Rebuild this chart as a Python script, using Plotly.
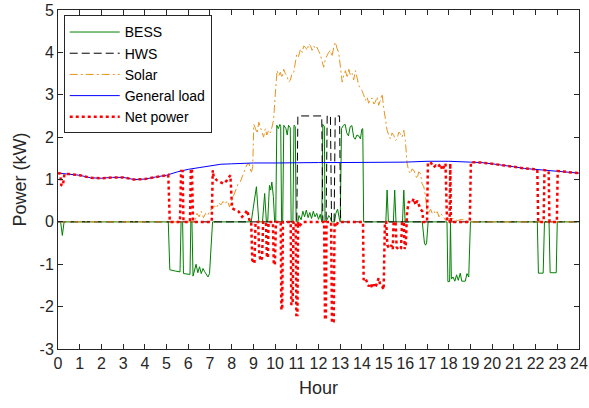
import plotly.graph_objects as go

# ---------------- data (hours, kW) ----------------
load_t = [0, 0.5, 1, 1.5, 2, 2.5, 3, 3.5, 4, 4.5, 5, 5.5, 6, 6.5, 7, 7.5, 8, 8.5, 9, 10, 11, 12, 13, 14,
          15, 16, 17, 18, 19, 19.5, 20, 20.5, 21, 21.5, 22, 22.5, 23, 23.5, 24]
load_v = [1.15, 1.13, 1.10, 1.04, 1.03, 1.05, 1.05, 1.00, 1.01, 1.06, 1.10, 1.18, 1.24, 1.28, 1.32, 1.36,
          1.37, 1.38, 1.39, 1.39, 1.40, 1.40, 1.40, 1.40, 1.40, 1.41, 1.43, 1.43, 1.41, 1.40, 1.37, 1.34,
          1.30, 1.26, 1.24, 1.22, 1.20, 1.17, 1.15]

hws_t = [0, 11.0, 11.05, 12.15, 12.2, 12.35, 12.4, 12.55, 12.6, 12.72, 12.77, 12.97, 13.02, 24]
hws_v = [0, 0, 2.5, 2.5, 0, 0, 2.5, 2.5, 0, 0, 2.5, 2.5, 0, 0]

solar_t = [0, 6.3, 6.4, 6.5, 6.6, 6.7, 6.8, 6.9, 7.0, 7.1, 7.2, 7.3, 7.4, 7.5, 7.6, 7.7, 7.8, 7.9, 8.0,
           8.1, 8.2, 8.3, 8.4, 8.5, 8.6, 8.7, 8.8, 8.9, 8.97, 9.02, 9.1, 9.17, 9.25, 9.32, 9.4, 9.47,
           9.55, 9.62, 9.7, 9.78, 9.86, 9.93, 10.0, 10.09, 10.17, 10.24, 10.32, 10.4, 10.47, 10.55,
           10.62, 10.7, 10.78, 10.86, 10.93, 11.0, 11.08, 11.17, 11.25, 11.32, 11.4, 11.48, 11.55,
           11.63, 11.7, 11.78, 11.86, 11.93, 12.0, 12.08, 12.16, 12.24, 12.32, 12.4, 12.47, 12.55,
           12.62, 12.7, 12.78, 12.85, 12.93, 13.0, 13.09, 13.16, 13.24, 13.32, 13.4, 13.47, 13.55,
           13.62, 13.7, 13.78, 13.85, 13.93, 14.0, 14.08, 14.16, 14.24, 14.31, 14.39, 14.47, 14.55,
           14.62, 14.7, 14.77, 14.85, 14.93, 15.0, 15.08, 15.16, 15.24, 15.31, 15.39, 15.47, 15.55,
           15.62, 15.7, 15.77, 15.85, 15.93, 16.0, 16.08, 16.16, 16.24, 16.31, 16.39, 16.47, 16.54,
           16.62, 16.7, 16.77, 16.85, 16.93, 17.0, 17.08, 17.16, 17.24, 17.32, 17.4, 17.47, 17.55,
           17.62, 17.7, 17.78, 17.85, 17.95, 18.05, 18.2, 18.4, 18.6, 18.8, 19.0, 24]
solar_v = [0, 0, 0.2, 0.12, 0.25, 0.1, 0.2, 0.15, 0.28, 0.3, 0.38, 0.32, 0.45, 0.4, 0.48, 0.42, 0.5,
           0.35, 0.5, 0.65, 0.8, 0.9, 0.95, 1.1, 1.2, 1.35, 1.38, 1.15, 1.3, 2.3, 2.2, 2.09, 2.35, 2.24,
           2.1, 2.0, 2.2, 2.05, 2.16, 2.1, 2.24, 2.4, 2.94, 3.57, 3.45, 3.53, 3.4, 3.6, 3.5, 3.45, 3.3,
           3.34, 3.5, 3.53, 3.75, 3.96, 3.9, 4.08, 4.0, 4.15, 4.12, 4.05, 4.2, 4.16, 4.05, 4.15, 4.08,
           4.12, 4.04, 3.95, 3.8, 3.65, 3.85, 3.95, 4.0, 4.05, 3.9, 4.12, 4.24, 4.1, 4.0, 3.7, 3.3,
           3.45, 3.57, 3.4, 3.6, 3.45, 3.5, 3.35, 3.57, 3.4, 3.22, 3.15, 3.1, 3.0, 2.87, 2.95, 2.8,
           2.9, 2.92, 2.78, 2.83, 2.95, 2.75, 2.87, 3.02, 2.7, 2.4, 2.16, 2.05, 1.96, 2.1, 2.04, 1.92,
           1.96, 2.12, 2.08, 2.0, 2.16, 1.92, 1.38, 1.2, 1.14, 1.25, 1.22, 1.1, 1.02, 1.18, 1.14, 0.9,
           0.83, 0.6, 0.28, 0.22, 0.3, 0.2, 0.25, 0.18, 0.24, 0.12, 0.2, 0.16, 0.1, 0.04, 0.1, 0.05,
           0.08, 0.03, 0.06, 0.02, 0, 0]

bess_t = [0, 0.12, 0.2, 0.28, 5.08, 5.15, 5.4, 5.62, 5.67, 5.74, 5.78, 6.08, 6.12, 6.17, 6.22, 6.3,
          6.36, 6.44, 6.52, 6.6, 6.68, 6.75, 6.83, 6.91, 6.98, 7.12, 8.9, 9.14, 9.25, 9.42, 9.52, 9.6,
          9.66, 9.74, 9.8, 9.85, 9.92, 9.98, 10.03, 10.08, 10.15, 10.22, 10.26, 10.3, 10.35, 10.4,
          10.5, 10.56, 10.62, 10.7, 10.74, 10.82, 10.87, 10.93, 10.97, 11.05, 11.1, 11.2, 11.28,
          11.36, 11.44, 11.52, 11.6, 11.68, 11.76, 11.84, 11.92, 12.0, 12.08, 12.15, 12.2, 12.27,
          12.3, 12.4, 12.47, 12.54, 12.6, 12.74, 12.8, 12.88, 12.95, 13.0, 13.06, 13.15, 13.23, 13.3,
          13.38, 13.46, 13.54, 13.62, 13.69, 13.77, 13.85, 13.93, 14.0, 14.04, 14.08, 15.1, 15.16,
          15.22, 15.45, 15.51, 15.57, 15.87, 15.93, 15.99, 16.78, 16.88, 16.93, 16.98, 17.05, 17.92,
          17.96, 18.04, 18.08, 18.12, 18.2, 18.28, 18.36, 18.44, 18.53, 18.6, 18.76, 18.84, 18.92,
          19.0, 22.08, 22.13, 22.35, 22.41, 22.62, 22.67, 22.95, 23.0, 24]
bess_v = [0, 0, -0.32, 0, 0, -1.13, -1.16, -1.18, 0, 0, -1.22, -1.24, 0, 0, -1.28, -1.15, -1.0, -1.2,
          -1.06, -1.22, -1.1, -1.17, -1.24, -1.3, -1.22, 0, 0, 0.83, 0, 0, 0.67, 0, 0, 0.86, 0.75, 0.94,
          0.6, 0, 0, 2.28, 2.2, 2.3, 2.25, 0, 0, 2.28, 2.2, 2.05, 2.28, 2.22, 0, 0, 2.28, 2.25, 0, 0,
          0.15, 0.05, 0.25, 0.12, 0.28, 0.1, 0.22, 0.08, 0.25, 0.12, 0.2, 0.06, 0.18, 0.0, 2.3, 2.25,
          0, 0.05, 0.15, 0.1, 0, 0, 0.2, 0.3, 0.1, 0, 2.2, 2.28, 2.3, 2.1, 2.03, 2.25, 2.27, 2.0, 1.95,
          2.05, 2.03, 1.96, 2.19, 2.2, 0, 0, 0.75, 0, 0, 0.75, 0, 0, 0.75, 0, 0, -0.5, -0.55, -0.5, 0,
          0, -1.41, -1.41, 0, -1.35, -1.3, -1.4, -1.25, -1.38, -1.21, -1.4, -1.4, -1.22, -1.3, 0, 0,
          -1.21, -1.21, 0, 0, -1.2, -1.2, 0, 0]

net_t = [0, 0.1, 0.15, 0.22, 0.3, 0.5, 1, 1.5, 2, 2.5, 3, 3.5, 4, 4.5, 5.0, 5.08, 5.15, 5.62, 5.67,
         5.74, 5.78, 6.08, 6.12, 6.17, 6.22, 7.08, 7.13, 7.17, 7.32, 7.48, 7.63, 7.78, 7.94, 8.02,
         8.17, 8.33, 8.48, 8.63, 8.71, 8.8, 8.84, 8.9, 8.95, 9.05, 9.1, 9.22, 9.27, 9.33, 9.4, 9.45,
         9.58, 9.62, 9.67, 9.7, 9.9, 9.94, 9.99, 10.04, 10.26, 10.29, 10.33, 10.36, 10.72, 10.75,
         10.81, 10.85, 10.95, 10.98, 11.03, 11.06, 11.1, 11.2, 11.3, 12.26, 12.3, 12.34, 12.37,
         12.58, 12.62, 12.7, 12.74, 12.8, 12.9, 14.05, 14.08, 14.16, 14.31, 14.4, 14.47, 14.55,
         14.62, 14.77, 14.85, 14.93, 15.0, 15.06, 15.12, 15.17, 15.25, 15.35, 15.42, 15.46, 15.55,
         15.6, 15.7, 15.8, 15.85, 15.93, 15.97, 16.02, 16.08, 16.16, 16.3, 16.39, 16.47, 16.55,
         16.7, 16.78, 16.83, 17.0, 17.04, 17.16, 17.3, 17.4, 17.5, 17.62, 17.7, 17.85, 17.92, 18.04,
         18.07, 18.1, 18.97, 19.02, 19.5, 20, 20.5, 21, 21.5, 22.08, 22.12, 22.37, 22.41, 22.6,
         22.64, 22.98, 23.02, 23.5, 24]
net_v = [1.15, 1.14, 0.87, 0.85, 1.13, 1.13, 1.10, 1.04, 1.03, 1.05, 1.05, 1.0, 1.01, 1.06, 1.10,
         1.11, 0, 0, 1.2, 1.2, 0, 0, 1.25, 1.25, 0, 0, 1.22, 1.06, 0.98, 0.94, 0.9, 0.98, 1.1, 0.32,
         0.28, 0.24, 0.12, 0.2, 0.28, 0.05, 0, 0, -0.9, -0.98, 0, 0, -0.75, -0.92, -0.85, 0, 0, -0.8,
         -0.85, 0, 0, -1.0, -1.02, 0, 0, -2.08, -2.05, 0, 0, -1.96, -1.9, 0, 0, -2.2, -2.2, 0, -0.12,
         -0.05, 0, 0, -2.31, -2.28, 0, 0, -2.39, -2.35, 0, -0.12, 0, 0, -1.37, -1.33, -1.52, -1.45,
         -1.56, -1.48, -1.55, -1.33, -1.5, -1.52, -1.6, 0, 0, -0.55, -0.62, -0.55, -0.65, 0, 0, -0.6,
         -0.66, -0.62, 0, 0, -0.64, -0.55, 0.24, 0.47, 0.45, 0.55, 0.4, 0.5, 0.3, 0.25, 0, 0, 1.38,
         1.41, 1.29, 1.33, 1.29, 1.37, 1.22, 1.38, 0, 0, 1.38, 0, 0, 1.41, 1.40, 1.37, 1.34, 1.30,
         1.26, 1.24, 0, 0, 1.22, 1.21, 0, 0, 1.2, 1.17, 1.15]

x_ticks = list(range(0, 25))
y_ticks = [-3, -2, -1, 0, 1, 2, 3, 4, 5]

FONT = "Liberation Sans, Arial, sans-serif"
AX = "#262626"

fig = go.Figure()
fig.add_trace(go.Scatter(x=bess_t, y=bess_v, mode="lines", name="BESS",
                         line=dict(color="#008000", width=1)))
fig.add_trace(go.Scatter(x=hws_t, y=hws_v, mode="lines", name="HWS",
                         line=dict(color="#000000", width=1, dash="8px,4px")))
fig.add_trace(go.Scatter(x=solar_t, y=solar_v, mode="lines", name="Solar",
                         line=dict(color="#E8941E", width=1, dash="8px,3px,2px,3px")))
fig.add_trace(go.Scatter(x=load_t, y=load_v, mode="lines", name="General load",
                         line=dict(color="#0000FF", width=1)))
fig.add_trace(go.Scatter(x=net_t, y=net_v, mode="lines", name="Net power",
                         line=dict(color="#FF0000", width=2.5, dash="dot")))

fig.update_layout(
    width=589, height=408,
    margin=dict(l=58, r=10, t=10, b=59),
    paper_bgcolor="white", plot_bgcolor="white",
    font=dict(family=FONT, size=15, color=AX),
    showlegend=True,
    legend=dict(x=0.011, y=0.984, xanchor="left", yanchor="top",
                bgcolor="white", bordercolor=AX, borderwidth=1,
                font=dict(family=FONT, size=14, color="#000000"),
                itemwidth=50, tracegroupgap=0),
)
fig.update_xaxes(range=[0, 24], tickmode="array", tickvals=x_ticks, ticktext=[str(v) for v in x_ticks],
                 ticks="inside", ticklen=5, tickcolor=AX, showline=True, linecolor=AX, linewidth=1,
                 mirror="ticks", showgrid=False, zeroline=False,
                 title=dict(text="Hour", font=dict(size=18), standoff=10),
                 tickfont=dict(size=16), automargin=False)
fig.update_yaxes(range=[-3, 5], tickmode="array", tickvals=y_ticks, ticktext=[str(v) for v in y_ticks],
                 ticks="inside", ticklen=5, tickcolor=AX, showline=True, linecolor=AX, linewidth=1,
                 mirror="ticks", showgrid=False, zeroline=False,
                 title=dict(text="Power (kW)", font=dict(size=18), standoff=8),
                 tickfont=dict(size=16), automargin=False)

fig.write_html("out.html")
